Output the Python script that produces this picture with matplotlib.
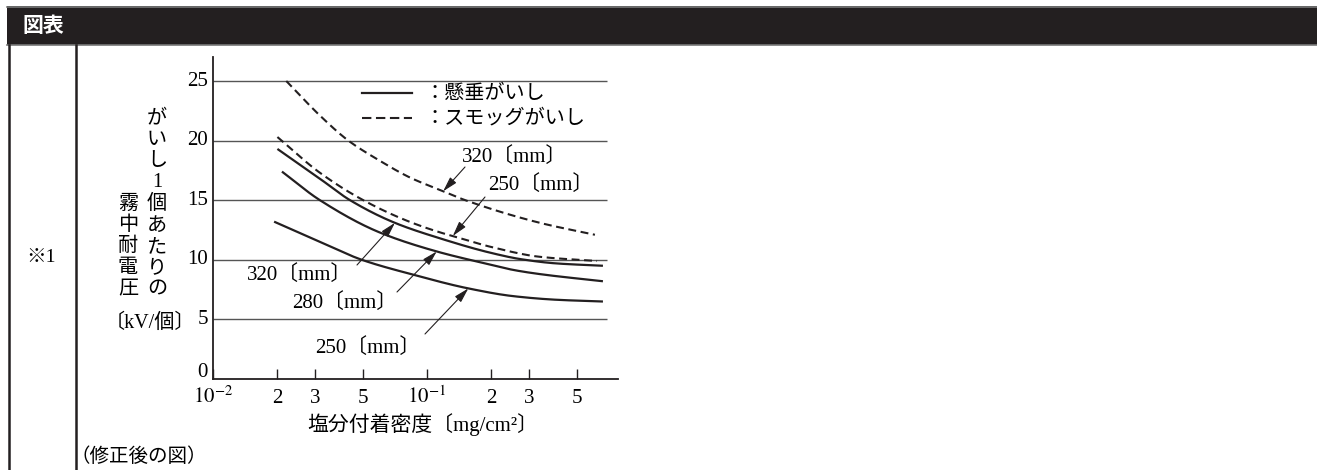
import numpy as np
import matplotlib
matplotlib.use("Agg")
import matplotlib.pyplot as plt
from matplotlib.lines import Line2D
from matplotlib.patches import Rectangle
import matplotlib.transforms as mtransforms

plt.rcParams['font.family'] = ['Liberation Serif', 'Noto Sans CJK JP']
plt.rcParams['mathtext.fontset'] = 'stix'

# ---------------- data ----------------
# suspension insulators (solid)
susp_320_x = [0.020, 0.0316, 0.0437, 0.0708, 0.115, 0.197, 0.275, 0.40, 0.664]
susp_320_y = [19.3, 16.8, 15.0, 13.1, 11.8, 10.6, 10.05, 9.7, 9.5]
susp_280_x = [0.021, 0.0316, 0.060, 0.111, 0.197, 0.253, 0.337, 0.664]
susp_280_y = [17.4, 15.0, 12.3, 10.7, 9.6, 9.15, 8.8, 8.2]
susp_250_x = [0.0193, 0.0316, 0.0496, 0.0863, 0.156, 0.253, 0.40, 0.664]
susp_250_y = [13.2, 11.5, 10.0, 8.75, 7.6, 6.95, 6.65, 6.5]
# smog (fog) insulators (dashed)
smog_320_x = [0.022, 0.0316, 0.0429, 0.0603, 0.0833, 0.119, 0.151, 0.337, 0.609]
smog_320_y = [25.0, 22.1, 20.0, 18.3, 16.9, 15.75, 15.0, 13.1, 12.1]
smog_250_x = [0.020, 0.0316, 0.0504, 0.080, 0.115, 0.135, 0.197, 0.337, 0.623]
smog_250_y = [20.3, 17.3, 15.0, 13.3, 12.3, 11.95, 11.1, 10.25, 9.9]

# arrow tips on the curves (x, y)
tip_smog_320 = (0.119, 15.75)
tip_smog_250 = (0.132, 12.0)
tip_susp_320 = (0.0708, 13.1)
tip_susp_280 = (0.111, 10.7)
tip_susp_250 = (0.156, 7.6)

y_ticks = [0, 5, 10, 15, 20, 25]
x_ticks = [0.01, 0.02, 0.03, 0.05, 0.1, 0.2, 0.3, 0.5]
x_tick_labels = [r'$10^{-2}$', '2', '3', '5', r'$10^{-1}$', '2', '3', '5']

legend_labels = ['：懸垂がいし', '：スモッグがいし']
curve_labels = ['320〔mm〕', '250〔mm〕', '320〔mm〕', '280〔mm〕', '250〔mm〕']
x_label = '塩分付着密度〔mg/cm²〕'
y_label_right = ['が', 'い', 'し', '1', '個', 'あ', 'た', 'り', 'の']
y_label_left = ['霧', '中', '耐', '電', '圧']
y_label_unit = '〔kV/個〕'
header = '図表'
row_label = '※1'
note = '（修正後の図）'

# ---------------- figure ----------------
W, H = 1317, 470
fig = plt.figure(figsize=(W / 100, H / 100), dpi=100)
fig.patch.set_facecolor('white')

def fx(px):
    return px / W

def fy(py):
    return 1 - py / H

INK = '#231f20'

# header bar
fig.patches.append(Rectangle((fx(7), fy(45)), fx(W - 7), 39 / H, transform=fig.transFigure,
                             facecolor=INK, edgecolor='none', zorder=0))
fig.add_artist(Line2D([fx(7), 1], [fy(6.5), fy(6.5)], color='#777777', lw=1.2, transform=fig.transFigure))
fig.add_artist(Line2D([fx(7), 1], [fy(45), fy(45)], color='#777777', lw=1.2, transform=fig.transFigure))
fig.text(fx(22), fy(26), header, color='white', fontsize=15, fontweight='bold',
         family=['Noto Sans CJK JP'], va='center', ha='left')

# table lines
fig.add_artist(Line2D([fx(8.5), fx(8.5)], [fy(45), 0], color=INK, lw=1.8, transform=fig.transFigure))
fig.add_artist(Line2D([fx(76), fx(76)], [fy(45), 0], color=INK, lw=1.8, transform=fig.transFigure))
fig.text(fx(41), fy(258), row_label, fontsize=14, ha='center', va='center',
         family=['Liberation Serif', 'Noto Sans CJK JP'])
fig.text(fx(71), fy(456), note, fontsize=14, ha='left', va='center',
         family=['Noto Sans CJK JP'])

# axes
ax = fig.add_axes([fx(213), fy(379), (618 - 213) / W, (379 - 57) / H])
ax.set_xscale('log')
ax.set_xlim(0.01, 10 ** (-2 + 405 / 214))
ax.set_ylim(0, (379 - 57) / 11.92)
for s in ['top', 'right']:
    ax.spines[s].set_visible(False)
for s in ['left', 'bottom']:
    ax.spines[s].set_linewidth(1.3)
    ax.spines[s].set_color(INK)

# grid lines
ax.hlines(y_ticks[1:], 0.01, 10 ** (-2 + 394 / 214), color='#555555', lw=1.0, zorder=1)

# y tick labels (drawn manually so that "0" sits a little above the x axis as in the reference)
ax.set_yticks([])
trans_y = mtransforms.blended_transform_factory(fig.transFigure, ax.transData)
for v in y_ticks:
    off = mtransforms.offset_copy(trans_y, fig=fig, x=0, y=(5 if v == 0 else 0), units='points')
    ax.text(fx(208), v, str(v), transform=off, ha='right', va='center', fontsize=15)

ax.set_xticks(x_ticks)
ax.set_xticklabels([''] * len(x_ticks))
ax.xaxis.set_minor_locator(matplotlib.ticker.NullLocator())
ax.tick_params(axis='x', direction='in', length=7.5, width=1.0, color=INK)

trans_x = mtransforms.blended_transform_factory(ax.transData, fig.transFigure)
for xv, lab in zip(x_ticks, x_tick_labels):
    ax.text(xv, fy(403), lab, transform=trans_x, ha='center', va='baseline', fontsize=15)


def pchip_line(xs, ys, n=300):
    """Monotone cubic (Fritsch-Carlson) curve through the read points, in log-x space."""
    x = np.log10(np.asarray(xs, float))
    y = np.asarray(ys, float)
    h = np.diff(x)
    d = np.diff(y) / h
    m = np.zeros_like(y)
    for k in range(1, len(y) - 1):
        if d[k - 1] * d[k] > 0:
            w1 = 2 * h[k] + h[k - 1]
            w2 = h[k] + 2 * h[k - 1]
            m[k] = (w1 + w2) / (w1 / d[k - 1] + w2 / d[k])
    m[0] = d[0]
    m[-1] = d[-1]
    xx = np.linspace(x[0], x[-1], n)
    idx = np.clip(np.searchsorted(x, xx) - 1, 0, len(h) - 1)
    t = (xx - x[idx]) / h[idx]
    h00 = 2 * t ** 3 - 3 * t ** 2 + 1
    h10 = t ** 3 - 2 * t ** 2 + t
    h01 = -2 * t ** 3 + 3 * t ** 2
    h11 = t ** 3 - t ** 2
    yy = h00 * y[idx] + h10 * h[idx] * m[idx] + h01 * y[idx + 1] + h11 * h[idx] * m[idx + 1]
    return 10 ** xx, yy

solid_kw = dict(color=INK, lw=1.6, solid_capstyle='butt', zorder=3)
dash_kw = dict(color=INK, lw=1.5, linestyle=(0, (3.8, 2.2)), zorder=3)
for xs, ys in [(susp_320_x, susp_320_y), (susp_280_x, susp_280_y), (susp_250_x, susp_250_y)]:
    ax.plot(*pchip_line(xs, ys), **solid_kw)
for xs, ys in [(smog_320_x, smog_320_y), (smog_250_x, smog_250_y)]:
    ax.plot(*pchip_line(xs, ys), **dash_kw)

# legend (drawn manually)
fig.add_artist(Line2D([fx(362), fx(412)], [fy(93), fy(93)], color=INK, lw=1.6,
                      transform=fig.transFigure))
fig.add_artist(Line2D([fx(362), fx(412)], [fy(118), fy(118)], color=INK, lw=1.5,
                      linestyle=(0, (4.5, 2.2)), transform=fig.transFigure))
fig.text(fx(424), fy(93), legend_labels[0], fontsize=14.5, family=['Noto Sans CJK JP'],
         ha='left', va='center')
fig.text(fx(424), fy(118), legend_labels[1], fontsize=14.5, family=['Noto Sans CJK JP'],
         ha='left', va='center')

# curve labels and arrows
label_pos = [(462, 157), (488, 185), (247, 275), (292, 303), (315, 348)]
tails = [(465, 167), (485, 197), (357, 265), (397, 292), (425, 334)]
tips = [tip_smog_320, tip_smog_250, tip_susp_320, tip_susp_280, tip_susp_250]
for lab, (px, py) in zip(curve_labels, label_pos):
    fig.text(fx(px), fy(py), lab, fontsize=15, ha='left', va='center',
             family=['Liberation Serif', 'Noto Sans CJK JP'], zorder=5)
for (tx, ty), tip in zip(tails, tips):
    ax.annotate('', xy=tip, xycoords='data', xytext=(fx(tx), fy(ty)), textcoords='figure fraction',
                arrowprops=dict(arrowstyle='-|>,head_length=0.9,head_width=0.25', lw=0.8,
                                color=INK, shrinkA=0, shrinkB=0, mutation_scale=10))

# x label
fig.text(fx(423), fy(425), x_label, fontsize=15, ha='center', va='center',
         family=['Liberation Serif', 'Noto Sans CJK JP'])

# y label (vertical, two columns)
for i, ch in enumerate(y_label_right):
    fam = ['Liberation Serif'] if ch.isdigit() else ['Noto Sans CJK JP']
    fig.text(fx(157), fy(118 + 21.4 * i), ch, fontsize=14.5, ha='center', va='center', family=fam)
for i, ch in enumerate(y_label_left):
    fig.text(fx(128), fy(203 + 21.4 * i), ch, fontsize=14.5, ha='center', va='center',
             family=['Noto Sans CJK JP'])
fig.text(fx(150), fy(323), y_label_unit, fontsize=14.5, ha='center', va='center',
         family=['Liberation Serif', 'Noto Sans CJK JP'])

fig.savefig('out.png', dpi=100)
